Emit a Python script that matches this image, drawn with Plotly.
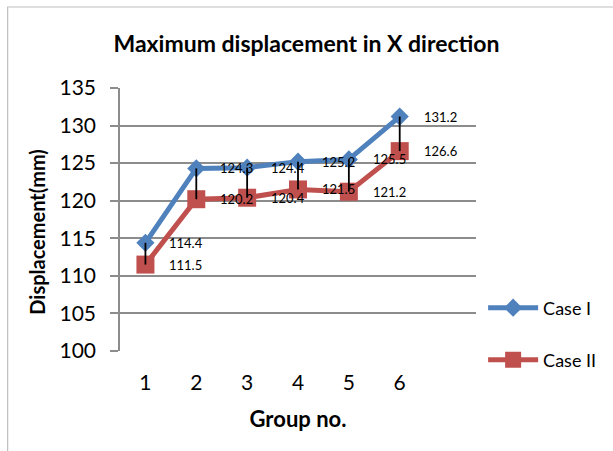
import plotly.graph_objects as go

# Data
groups = [1, 2, 3, 4, 5, 6]
case1 = [114.4, 124.3, 124.4, 125.2, 125.5, 131.2]
case2 = [111.5, 120.2, 120.4, 121.5, 121.2, 126.6]
y_ticks = [100, 105, 110, 115, 120, 125, 130, 135]

BLUE = "#4F81BD"
RED = "#C0504D"
GRID = "#8C8C8C"
FONT = "Lato"

fig = go.Figure()

fig.add_trace(go.Scatter(
    x=groups, y=case1, name="Case I", mode="lines+markers",
    line=dict(color=BLUE, width=5),
    marker=dict(symbol="diamond", size=14, color=BLUE),
    legend="legend",
))
fig.add_trace(go.Scatter(
    x=groups, y=case2, name="Case II", mode="lines+markers",
    line=dict(color=RED, width=5),
    marker=dict(symbol="square", size=18, color=RED),
    legend="legend2",
))

# High-low connectors between the two cases
hx, hy = [], []
for g, a, b in zip(groups, case1, case2):
    hx += [g, g, None]
    hy += [a, b, None]
fig.add_trace(go.Scatter(
    x=hx, y=hy, mode="lines", line=dict(color="black", width=1.8),
    showlegend=False, hoverinfo="skip",
))

# Value labels to the right of each point
annotations = []
for series in (case1, case2):
    for g, v in zip(groups, series):
        annotations.append(dict(
            x=g, y=v, xref="x", yref="y", text=f"{v:.1f}",
            showarrow=False, xanchor="left", yanchor="middle", xshift=22,
            font=dict(family=FONT, size=13, color="black"),
        ))

# Vertical axis title
annotations.append(dict(
    x=-0.232, y=0.455, xref="paper", yref="paper",
    text="<b>Displacement(mm)</b>", textangle=-90, showarrow=False,
    xanchor="center", yanchor="middle",
    font=dict(family=FONT, size=20, color="black"),
))

fig.update_layout(
    width=613, height=451,
    margin=dict(l=120, r=135, t=88, b=100),
    paper_bgcolor="white", plot_bgcolor="white",
    font=dict(family=FONT, color="black"),
    title=dict(
        text="<b>Maximum displacement in X direction</b>",
        x=0.5, xref="container", xanchor="center", y=1 - 44 / 451, yref="container",
        yanchor="middle", font=dict(family=FONT, size=23, color="black"),
    ),
    xaxis=dict(
        range=[0.5, 7.5], tickvals=groups, ticktext=[str(g) for g in groups],
        showgrid=False, zeroline=False, showline=False, ticks="",
        tickfont=dict(family=FONT, size=21), ticklabelstandoff=17,
        title=dict(text="<b>Group no.</b>", font=dict(family=FONT, size=22), standoff=18),
    ),
    yaxis=dict(
        range=[100, 135], tickvals=y_ticks, showgrid=True, gridcolor=GRID, gridwidth=1.5,
        zeroline=False, showline=True, linecolor=GRID, linewidth=1.5,
        ticks="outside", ticklen=8, tickcolor=GRID, tickwidth=1.5,
        tickfont=dict(family=FONT, size=21), ticklabelstandoff=10,
    ),
    legend=dict(
        x=1.02, y=(351 - 308) / 263, xref="paper", yref="paper",
        xanchor="left", yanchor="middle", bgcolor="rgba(0,0,0,0)",
        font=dict(family=FONT, size=18), itemwidth=50,
    ),
    legend2=dict(
        x=1.02, y=(351 - 360) / 263, xref="paper", yref="paper",
        xanchor="left", yanchor="middle", bgcolor="rgba(0,0,0,0)",
        font=dict(family=FONT, size=18), itemwidth=50,
    ),
    annotations=annotations,
    shapes=[dict(
        type="rect", xref="paper", yref="paper",
        x0=(7 - 120) / 358, x1=3, y0=-2, y1=(351 - 7) / 263,
        line=dict(color="#BFBFBF", width=1.2), fillcolor="rgba(0,0,0,0)",
        layer="below",
    )],
)

fig.write_html("out.html")
